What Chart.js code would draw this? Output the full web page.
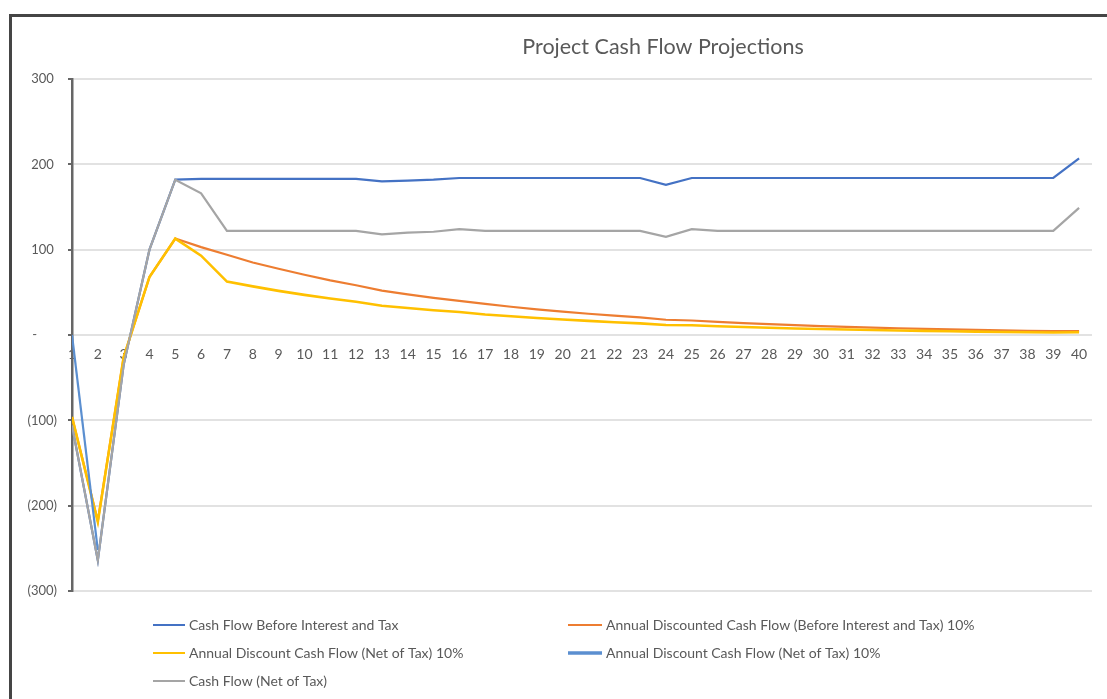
<!DOCTYPE html>
<html>
<head>
<meta charset="utf-8">
<title>Project Cash Flow Projections</title>
<script src="https://cdn.jsdelivr.net/npm/chart.js@4.4.1/dist/chart.umd.min.js"></script>
<style>
  html, body { margin: 0; padding: 0; background: #fff; overflow: hidden; }
  #wrap { position: relative; width: 1107px; height: 699px; overflow: hidden; }
  #frame { position: absolute; left: 9px; top: 14px; width: 1300px; height: 800px;
           border-left: 3px solid #454545; border-top: 3px solid #454545; pointer-events: none; }
  canvas { position: absolute; left: 0; top: 0; }
</style>
</head>
<body>
<div id="wrap">
  <canvas id="chart" width="1107" height="699"></canvas>
  <div id="frame"></div>
</div>
<script>
// Project years
const years = [1,2,3,4,5,6,7,8,9,10,11,12,13,14,15,16,17,18,19,20,
               21,22,23,24,25,26,27,28,29,30,31,32,33,34,35,36,37,38,39,40];

// Cash flow before interest and tax
const cfBeforeTax = [-106,-264,-35,100,182,183,183,183,183,183,183,183,180,181,182,184,184,184,184,184,
                     184,184,184,176,184,184,184,184,184,184,184,184,184,184,184,184,184,184,184,207];

// Annual discounted cash flow (before interest and tax) at 10%
const dcfBeforeTax = [-96,-218,-26,68,113,103,94,85,77.6,70.6,64.1,58.3,52.1,47.7,43.6,40.0,36.4,33.1,30.1,27.4,
                      24.9,22.6,20.6,17.9,17.0,15.4,14.0,12.8,11.6,10.5,9.6,8.7,7.9,7.2,6.5,5.9,5.4,4.9,4.5,4.6];

// Annual discounted cash flow (net of tax) at 10%
const dcfNetTax = [-96,-219,-26,68,113,93,62.6,57,51.7,47,42.8,38.9,34.2,31.6,29,27,24.1,21.9,19.9,18.1,
                   16.5,15.0,13.6,11.7,11.4,10.2,9.3,8.5,7.7,7.0,6.4,5.8,5.3,4.8,4.4,4.0,3.6,3.3,3.0,3.3];

// Second discounted net-of-tax series (only the first two years carry values)
const dcfNetTax2 = [0,-252,null,null,null,null,null,null,null,null,null,null,null,null,null,null,null,null,null,null,
                    null,null,null,null,null,null,null,null,null,null,null,null,null,null,null,null,null,null,null,null];

// Cash flow net of tax
const cfNetTax = [-106,-264,-35,100,182,166,122,122,122,122,122,122,118,120,121,124,122,122,122,122,
                  122,122,122,115,124,122,122,122,122,122,122,122,122,122,122,122,122,122,122,149];

// Value axis ticks
const yTicks = [-300,-200,-100,0,100,200,300];

const seriesNames = [
  'Cash Flow Before Interest and Tax',
  'Annual Discounted Cash Flow (Before Interest and Tax) 10%',
  'Annual Discount Cash Flow (Net of Tax) 10%',
  'Annual Discount Cash Flow (Net of Tax) 10%',
  'Cash Flow (Net of Tax)'
];
const seriesValues = [cfBeforeTax, dcfBeforeTax, dcfNetTax, dcfNetTax2, cfNetTax];
const seriesColors = ['#4472C4', '#ED7D31', '#FFC000', '#5B8FD0', '#A5A5A5'];
const seriesWidths = [2.2, 2.2, 2.6, 2.2, 2.2];
const legendWidths = [2, 2, 2, 3.5, 2];

const FONT = 'Lato, "Open Sans", sans-serif';
const TEXT = '#595959';

const toPoints = vals => vals.map((v, i) => ({ x: years[i], y: v }));

const datasets = seriesValues.map((vals, i) => ({
  label: seriesNames[i],
  data: toPoints(vals),
  borderColor: seriesColors[i],
  backgroundColor: seriesColors[i],
  borderWidth: seriesWidths[i],
  pointRadius: 0,
  tension: 0,
  spanGaps: false,
  order: seriesValues.length - 1 - i
}));

function accounting(v) {
  if (v === 0) return '-      ';
  if (v < 0) return '(' + Math.abs(v) + ')';
  return v + '\u2009\u2009';
}

// Title and two-column legend drawn onto the canvas
const decorations = {
  id: 'decorations',
  afterDraw(chart) {
    const ctx = chart.ctx;
    ctx.save();
    ctx.fillStyle = TEXT;
    ctx.font = '21.5px ' + FONT;
    ctx.textAlign = 'center';
    ctx.textBaseline = 'middle';
    ctx.fillText('Project Cash Flow Projections', 663, 47);

    const colX = [153, 568];
    const lineLen = [32, 34];
    ctx.font = '14px ' + FONT;
    ctx.textAlign = 'left';
    chart.data.datasets.forEach((ds, i) => {
      const col = i % 2, row = Math.floor(i / 2);
      const x = colX[col], y = 625 + row * 28;
      ctx.strokeStyle = ds.borderColor;
      ctx.lineWidth = legendWidths[i];
      ctx.beginPath();
      ctx.moveTo(x, y);
      ctx.lineTo(x + lineLen[col], y);
      ctx.stroke();
      ctx.fillStyle = TEXT;
      ctx.fillText(ds.label, x + lineLen[col] + 4, y);
    });
    ctx.restore();
  }
};

new Chart(document.getElementById('chart'), {
  type: 'line',
  data: { datasets },
  options: {
    responsive: false,
    animation: false,
    layout: { padding: { left: 0, top: 79, right: 15, bottom: 108 } },
    plugins: { legend: { display: false }, title: { display: false }, tooltip: { enabled: false } },
    scales: {
      x: {
        type: 'linear',
        position: { y: 0 },
        min: 1,
        max: 40.5,
        afterBuildTicks: scale => { scale.ticks = years.map(v => ({ value: v })); },
        grid: { display: false, drawTicks: false },
        border: { display: false },
        ticks: {
          autoSkip: false,
          maxRotation: 0,
          padding: 11,
          color: TEXT,
          font: { family: FONT, size: 14 }
        }
      },
      y: {
        min: -300,
        max: 300,
        afterBuildTicks: scale => { scale.ticks = yTicks.map(v => ({ value: v })); },
        afterFit: scale => { scale.width = 72; },
        grid: { color: '#e2e2e2', lineWidth: 2, tickColor: '#666', tickLength: 4 },
        border: { display: true, color: '#666', width: 2.5 },
        ticks: {
          padding: 11,
          color: TEXT,
          font: { family: FONT, size: 13 },
          callback: v => accounting(v)
        }
      }
    }
  },
  plugins: [decorations]
});
</script>
</body>
</html>
